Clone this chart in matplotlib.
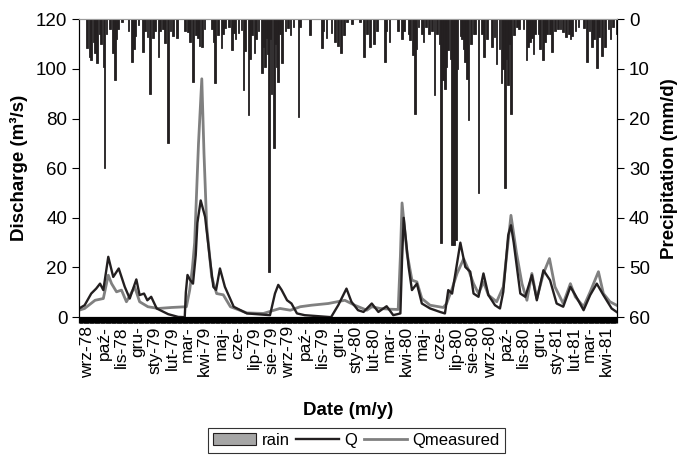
# -*- coding: utf-8 -*-
# discharge / precipitation chart, wrz-78 .. kwi-81

import numpy as np
import pandas as pd
import matplotlib
matplotlib.use('Agg')
import matplotlib.pyplot as plt
from matplotlib.patches import Patch
from matplotlib.lines import Line2D

plt.rcParams['font.family'] = ['Liberation Sans', 'DejaVu Sans']

# days counted from 1978-08-16
start_date = '1978-08-16'
n_days = 978

month_labels = ['wrz-78', 'paź-', 'lis-78', 'gru-', 'sty-79', 'lut-79', 'mar-',
                'kwi-79', 'maj-', 'cze-', 'lip-79', 'sie-79', 'wrz-79', 'paź-',
                'lis-79', 'gru-', 'sty-80', 'lut-80', 'mar-', 'kwi-80', 'maj-',
                'cze-', 'lip-80', 'sie-80', 'wrz-80', 'paź-', 'lis-80', 'gru-',
                'sty-81', 'lut-81', 'mar-', 'kwi-81']

# simulated discharge Q (m3/s)
q_days = [0, 10, 22, 31, 38, 44, 53, 62, 72, 83, 92, 104, 110, 118, 124, 131, 141,
          162, 180, 192, 194, 197, 202, 207, 212, 215, 221, 229, 238, 244, 249, 256,
          265, 281, 305, 347, 356, 362, 368, 378, 386, 396, 410, 458, 471, 486, 495,
          507, 517, 532, 544, 559, 571, 584, 587, 590, 599, 605, 614, 623, 638, 656,
          665, 671, 678, 684, 693, 702, 711, 717, 726, 735, 744, 756, 765, 771, 780,
          785, 790, 802, 811, 823, 832, 844, 856, 868, 880, 893, 902, 917, 929, 941,
          953, 968, 977]
q_vals = [3.5, 4.8, 9.5, 11.5, 13.5, 10.9, 24.3, 16.2, 19.6, 12.2, 7.5, 15.2, 8.9,
          9.5, 6.8, 8.2, 3.5, 1.2, 0.1, 0, 10, 17, 14.9, 13.5, 25, 38, 47, 40.4, 23,
          12.2, 11, 19.6, 12.2, 4.2, 1.5, 0.8, 9.5, 13, 11, 6.8, 5.5, 1.5, 0.8, 0,
          4.8, 11.5, 6.2, 2.8, 2.1, 5.5, 2.1, 4.4, 0.8, 1.5, 23, 40, 20.2, 10.9, 13.5,
          5.5, 3.5, 2.1, 1.5, 10.9, 9.5, 17.6, 30, 20.2, 18.3, 9.5, 8.2, 17.6, 8.9,
          4.8, 3.5, 10.2, 33, 37, 30, 9.5, 8.2, 16.9, 6.8, 18.9, 14.9, 5.5, 4.2,
          12.2, 8.9, 2.8, 8.9, 13.5, 8.9, 3.5, 2.1]

# measured discharge (m3/s)
qm_days = [0, 10, 29, 44, 53, 59, 68, 77, 86, 101, 110, 125, 144, 168, 195, 201,
           206, 210, 217, 223, 227, 232, 241, 250, 262, 275, 305, 335, 365, 384,
           402, 422, 453, 483, 501, 523, 532, 547, 565, 580, 584, 587, 596, 605,
           614, 623, 638, 662, 668, 678, 687, 699, 708, 717, 726, 735, 744, 759,
           771, 785, 795, 805, 814, 823, 832, 844, 855, 865, 880, 893, 902, 917,
           929, 944, 953, 965, 977]
qm_vals = [2.8, 3.5, 6.8, 7.5, 16.9, 13.5, 10.2, 10.9, 6.2, 12.2, 6.2, 4.2, 3.5,
           3.9, 4.2, 10.9, 20, 30, 69.9, 96, 65.9, 36.4, 16.2, 9.5, 9.0, 4.2, 1.7,
           1.5, 3.5, 2.8, 4.2, 4.8, 5.5, 6.8, 4.8, 2.8, 4.2, 3.5, 3.2, 3.1, 24.6,
           46, 25.9, 14.9, 14.2, 7.5, 4.8, 3.9, 5.5, 11.5, 17.6, 23.5, 19, 13.5, 9.5,
           14.2, 8.9, 6.2, 12.2, 41, 25.9, 13.5, 6.8, 17.6, 7.5, 17.6, 23.6, 12.2,
           5.5, 13.5, 8.2, 4.2, 10.2, 18.3, 9.5, 6.2, 4.8]

# daily rain (mm/d), only the days with rain
rain_days = [14, 19, 22, 26, 29, 33, 38, 40, 44, 46, 50, 56, 61, 65, 68, 71, 78,
             90, 96, 100, 102, 108, 116, 120, 124, 129, 134, 138, 144, 147, 152,
             156, 162, 166, 171, 178, 193, 198, 201, 207, 213, 216, 219, 223, 228,
             241, 245, 247, 253, 259, 262, 265, 273, 278, 281, 284, 290, 295, 299,
             302, 308, 311, 314, 319, 322, 326, 332, 335, 338, 341, 343, 345, 348,
             350, 354, 357, 359, 362, 365, 369, 375, 380, 384, 390, 399, 402, 420,
             441, 444, 450, 459, 465, 471, 476, 482, 487, 496, 511, 518, 523, 529,
             536, 541, 556, 559, 564, 580, 587, 590, 600, 602, 607, 611, 613, 617,
             623, 626, 631, 636, 641, 646, 651, 655, 658, 662, 665, 667, 671, 675,
             678, 682, 685, 688, 693, 696, 699, 702, 705, 708, 712, 717, 720, 726,
             732, 736, 742, 750, 755, 759, 764, 768, 771, 774, 777, 780, 783, 785,
             790, 796, 800, 808, 813, 816, 820, 823, 826, 829, 835, 838, 843, 847,
             850, 856, 860, 865, 871, 875, 880, 885, 890, 893, 896, 902, 908, 918,
             923, 928, 932, 936, 941, 945, 950, 956, 962, 966, 971, 977]
rain_vals = [5.9, 7.6, 8.3, 4.6, 6.9, 8.9, 2.9, 5.0, 9.6, 30, 3.0, 2.0, 6.9, 12.3,
             4.0, 1.9, 0.5, 2.4, 8.6, 6.0, 3.4, 1.2, 6.6, 2.4, 3.5, 15.0, 3.8, 2.4,
             7.6, 2.4, 2.0, 4.8, 25, 2.4, 3.4, 3.8, 2.4, 2.5, 4.6, 12.6, 3.1, 3.8,
             5.3, 5.6, 2.0, 1.9, 4.5, 12.9, 3.1, 5.9, 2.9, 1.8, 1.5, 6.2, 2.8, 4.0,
             2.8, 2.2, 14.3, 6.5, 19.3, 8.0, 3.1, 6.9, 4.0, 2.4, 10.9, 5.5, 9.6, 3.8,
             7.0, 51, 4.0, 15, 26, 5.0, 9.6, 12.6, 3.0, 8.9, 2.4, 1.8, 3.1, 1.5,
             19.7, 1.5, 3.1, 5.9, 2.4, 3.8, 2.8, 4.6, 5.3, 6.9, 3.1, 0.6, 0.9, 0.5,
             7.6, 2.9, 5.6, 4.9, 2.4, 8.6, 2.4, 4.5, 2.4, 3.9, 2.4, 3.0, 4.2, 7.2,
             19, 6.0, 1.5, 2.9, 4.5, 1.5, 3.0, 2.4, 15.3, 2.9, 5.0, 45, 12.3, 14.0,
             9.6, 6.2, 8.0, 45.5, 45.5, 44.5, 10.0, 3.4, 4.0, 6, 8.6, 12.0, 20.3,
             5.0, 2.9, 3.0, 35, 2.9, 7.6, 4.0, 5.6, 3.5, 9.1, 6.0, 12.9, 10.0, 34,
             8.0, 13.2, 5.0, 19, 3.1, 1.5, 2.0, 1.9, 8.3, 5.5, 4.6, 3.8, 7.0, 2.9,
             3.0, 6, 8.2, 4.5, 2.9, 3.0, 6.6, 2.4, 1.9, 2.0, 2.6, 3.5, 2.9, 4.0,
             3.3, 2.4, 1.5, 1.8, 8.6, 2.4, 5.6, 4.0, 9.9, 3.5, 7.5, 5.6, 1.9, 4.0,
             1.5, 2.9]

DARK = '#231f20'
GREY = '#808080'

################################################################################

def month_positions():
    # day index of the first of every month shown on the axis
    t0 = pd.Timestamp(start_date)
    months = pd.date_range('1978-09-01', periods=len(month_labels), freq='MS')
    return [(m - t0).days for m in months]

def draw_chart():
    fig = plt.figure(figsize=(6.88, 4.57), dpi=100)
    ax = fig.add_axes([0.115, 0.306, 0.782, 0.652])

    ax.plot(qm_days, qm_vals, color=GREY, lw=2.0, zorder=2)
    ax.plot(q_days, q_vals, color=DARK, lw=1.7, zorder=3)

    ax.set_xlim(0, n_days)
    ax.set_ylim(0, 120)
    ax.set_yticks(np.arange(0, 121, 20))
    ax.tick_params(axis='y', labelsize=13.5, length=5, width=0.8, direction='out')

    # daily ticks form the black band under the axis
    ax.set_xticks(np.arange(0, n_days), minor=True)
    ax.tick_params(axis='x', which='minor', length=4.5, width=0.9, color='black')
    ax.set_xticks(month_positions())
    ax.set_xticklabels(month_labels, rotation=90, fontsize=12.5)
    ax.tick_params(axis='x', which='major', length=4.5, width=0.9, pad=2)

    ax.set_ylabel('Discharge (m³/s)', fontsize=13.5, fontweight='bold', labelpad=6)
    ax.set_xlabel('Date (m/y)', fontsize=13.5, fontweight='bold', labelpad=17)

    # rain hangs from the top on an inverted right axis
    ax2 = ax.twinx()
    ax2.bar(rain_days, rain_vals, width=3.0, color=DARK, edgecolor=DARK,
            linewidth=0.6, zorder=1)
    ax2.set_ylim(60, 0)
    ax2.set_yticks(np.arange(0, 61, 10))
    ax2.tick_params(axis='y', labelsize=13.5, length=5, width=0.8, direction='out')
    ax2.set_ylabel('Precipitation (mm/d)', fontsize=13.5, fontweight='bold',
                   labelpad=8)

    for a in (ax, ax2):
        a.spines['top'].set_color('#9a9a9a')
        a.spines['left'].set_color('black')
        a.spines['right'].set_color('black')
        a.spines['bottom'].set_color('black')

    handles = [Patch(facecolor='#a6a6a6', edgecolor=DARK, linewidth=0.8),
               Line2D([], [], color=DARK, lw=1.7),
               Line2D([], [], color=GREY, lw=2.0)]
    leg = fig.legend(handles, ['rain', 'Q', 'Qmeasured'], ncol=3,
                     loc='center', bbox_to_anchor=(0.518, 0.037),
                     fontsize=12, frameon=True, fancybox=False,
                     handlelength=2.6, handletextpad=0.3, columnspacing=0.4,
                     borderpad=0.3, borderaxespad=0)
    leg.get_frame().set_edgecolor('black')
    leg.get_frame().set_linewidth(0.8)

    fig.savefig('out.png', dpi=100)

################################################################################

if __name__ == "__main__":
    draw_chart()
